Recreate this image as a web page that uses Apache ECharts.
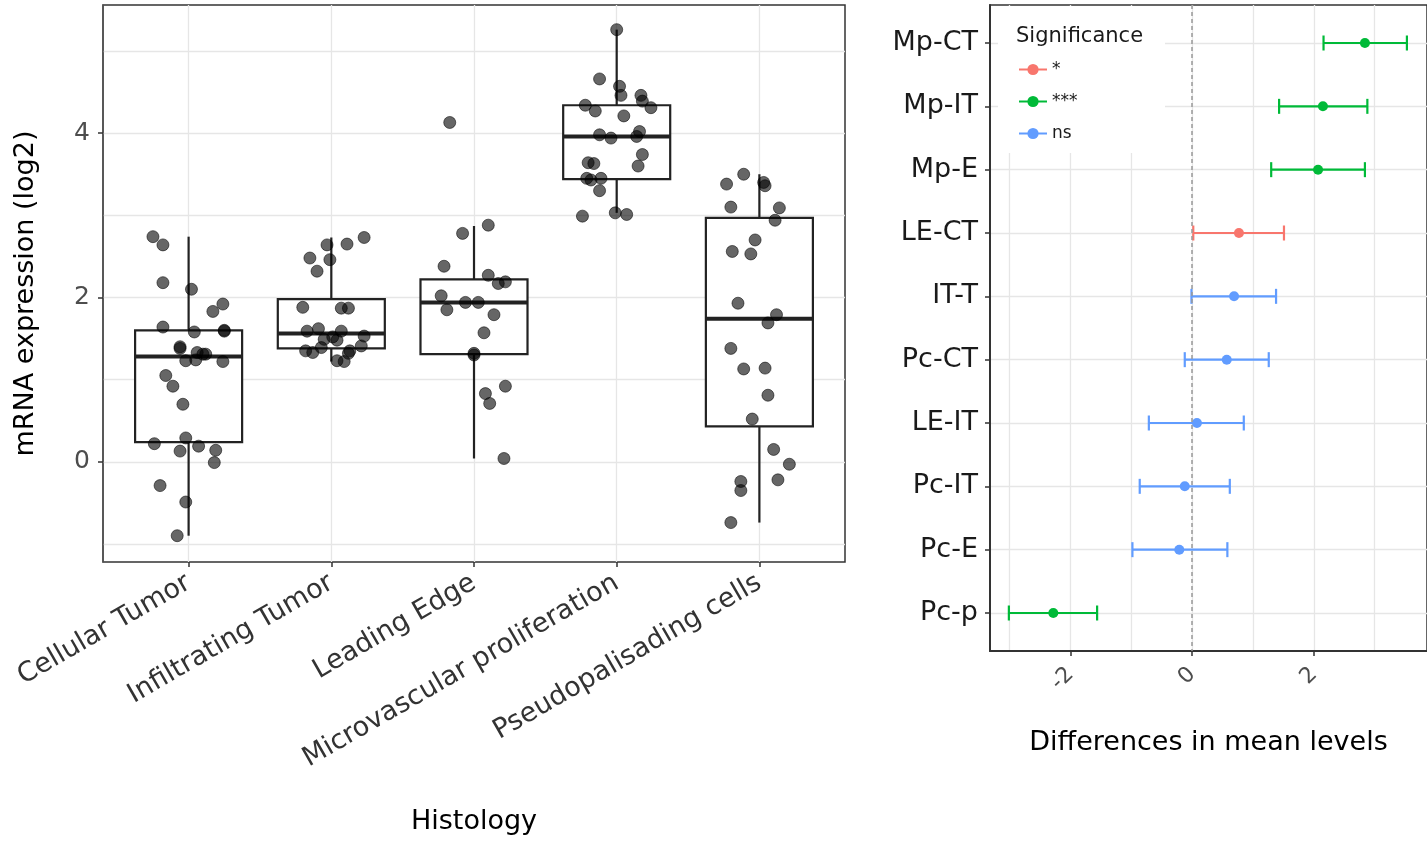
<!DOCTYPE html>
<html>
<head>
<meta charset="utf-8">
<script src="https://cdn.jsdelivr.net/npm/echarts@6/dist/echarts.min.js"></script>
<style>
  html, body { margin: 0; padding: 0; background: #fff; }
  #chart { width: 1427px; height: 841px; }
</style>
</head>
<body>
<div id="chart"></div>
<script>
// ---- left panel: expression by histology ----
var histology = ['Cellular Tumor', 'Infiltrating Tumor', 'Leading Edge', 'Microvascular proliferation', 'Pseudopalisading cells'];

var ctExpr = [2.74, 2.64, 2.18, 2.10, 1.92, 1.83, 1.64, 1.58, 1.60, 1.59, 1.40, 1.38, 1.33, 1.31, 1.31, 1.23, 1.24, 1.22, 1.05, 0.92, 0.70, 0.29, 0.22, 0.13, 0.19, 0.14, -0.01, -0.29, -0.49, -0.90];
var ctJit = [-0.25, -0.18, -0.18, 0.02, 0.24, 0.17, -0.18, 0.04, 0.25, 0.25, -0.06, -0.06, 0.06, 0.12, 0.10, -0.02, 0.05, 0.24, -0.16, -0.11, -0.04, -0.02, -0.24, -0.06, 0.07, 0.19, 0.18, -0.20, -0.02, -0.08];
var itExpr = [2.64, 2.65, 2.73, 2.48, 2.46, 2.32, 1.88, 1.87, 1.87, 1.59, 1.62, 1.59, 1.53, 1.49, 1.52, 1.48, 1.39, 1.35, 1.33, 1.35, 1.41, 1.23, 1.22, 1.32];
var itJit = [-0.03, 0.11, 0.23, -0.15, -0.01, -0.10, -0.20, 0.07, 0.12, -0.17, -0.09, 0.07, 0.23, -0.05, 0.01, 0.04, -0.07, -0.18, -0.13, 0.13, 0.21, 0.04, 0.09, 0.12];
var leExpr = [4.13, 2.88, 2.78, 2.38, 2.27, 2.17, 2.19, 2.02, 1.85, 1.94, 1.94, 1.79, 1.57, 1.32, 1.30, 0.92, 0.83, 0.71, 0.04];
var leJit = [-0.17, 0.10, -0.08, -0.21, 0.10, 0.17, 0.22, -0.23, -0.19, -0.06, 0.03, 0.14, 0.07, 0.00, 0.00, 0.22, 0.08, 0.11, 0.21];
var mpExpr = [5.26, 4.66, 4.57, 4.46, 4.46, 4.39, 4.31, 4.34, 4.27, 4.21, 3.98, 3.94, 4.02, 3.96, 3.74, 3.60, 3.64, 3.63, 3.45, 3.43, 3.45, 3.30, 2.99, 3.03, 3.01];
var mpJit = [0.00, -0.12, 0.02, 0.03, 0.17, 0.18, 0.24, -0.22, -0.15, 0.05, -0.12, -0.04, 0.16, 0.14, 0.18, 0.15, -0.20, -0.16, -0.21, -0.18, -0.11, -0.12, -0.24, -0.01, 0.07];
var pcExpr = [3.50, 3.38, 3.40, 3.36, 3.10, 3.09, 2.94, 2.70, 2.56, 2.53, 1.93, 1.79, 1.69, 1.38, 1.13, 1.14, 0.81, 0.52, 0.15, -0.03, -0.22, -0.24, -0.35, -0.74];
var pcJit = [-0.11, -0.23, 0.03, 0.04, -0.20, 0.14, 0.11, -0.03, -0.19, -0.06, -0.15, 0.12, 0.06, -0.20, -0.11, 0.04, 0.06, -0.05, 0.10, 0.21, 0.13, -0.13, -0.13, -0.20];

var boxLow = [-0.90, 1.22, 0.04, 3.03, -0.74];
var boxQ1 = [0.24, 1.38, 1.31, 3.44, 0.43];
var boxMed = [1.28, 1.56, 1.94, 3.96, 1.74];
var boxQ3 = [1.60, 1.98, 2.22, 4.34, 2.97];
var boxHigh = [2.74, 2.73, 2.87, 5.26, 3.50];

var exprTicks = [0, 2, 4];
var exprGrid = [-1, 0, 1, 2, 3, 4, 5];

// ---- right panel: pairwise differences ----
var comparisons = ['Mp-CT', 'Mp-IT', 'Mp-E', 'LE-CT', 'IT-T', 'Pc-CT', 'LE-IT', 'Pc-IT', 'Pc-E', 'Pc-p'];
var diffMean = [2.84, 2.15, 2.07, 0.77, 0.69, 0.57, 0.08, -0.12, -0.21, -2.28];
var diffLwr = [2.16, 1.43, 1.30, 0.02, -0.01, -0.12, -0.71, -0.86, -0.98, -3.01];
var diffUpr = [3.53, 2.88, 2.84, 1.51, 1.38, 1.26, 0.85, 0.62, 0.58, -1.56];
var significance = ['***', '***', '***', '*', 'ns', 'ns', 'ns', 'ns', 'ns', '***'];
var sigLevels = ['*', '***', 'ns'];

var diffTicks = [-2, 0, 2];
var diffGrid = [-3, -2, -1, 0, 1, 2, 3];

var sigColor = { '*': '#F8766D', '***': '#00BA38', 'ns': '#619CFF' };

var groupExpr = [ctExpr, itExpr, leExpr, mpExpr, pcExpr];
var groupJit = [ctJit, itJit, leJit, mpJit, pcJit];

var jitterData = [];
groupExpr.forEach(function (vals, g) {
  vals.forEach(function (v, k) {
    jitterData.push([g + groupJit[g][k], v]);
  });
});

var boxData = histology.map(function (n, i) {
  return [i, boxLow[i], boxQ1[i], boxMed[i], boxQ3[i], boxHigh[i]];
});

var errData = comparisons.map(function (c, i) {
  return { value: [diffLwr[i], diffUpr[i], i], itemStyle: { color: sigColor[significance[i]] } };
});

var pointSeries = sigLevels.map(function (s) {
  var d = [];
  comparisons.forEach(function (c, i) {
    if (significance[i] === s) d.push([diffMean[i], i]);
  });
  return {
    name: s,
    type: 'line',
    xAxisIndex: 1,
    yAxisIndex: 2,
    data: d,
    symbol: 'circle',
    symbolSize: 10,
    showSymbol: true,
    lineStyle: { opacity: 0 },
    itemStyle: { color: sigColor[s] },
    z: 4,
    silent: true,
    animation: false
  };
});

var chart = echarts.init(document.getElementById('chart'));
var axisGrey = '#4d4d4d';
var gridLine = { color: '#e6e6e6', width: 1.3 };

chart.setOption({
  animation: false,
  textStyle: { fontFamily: 'DejaVu Sans' },
  title: {
    text: 'Significance',
    left: 1011,
    top: 21,
    z: 8,
    textStyle: { fontSize: 21, fontWeight: 'normal', color: '#1a1a1a', fontFamily: 'DejaVu Sans' }
  },
  legend: {
    data: sigLevels,
    orient: 'vertical',
    left: 1013,
    top: 56,
    itemWidth: 28,
    itemHeight: 14,
    itemGap: 15,
    z: 8,
    textStyle: { fontSize: 17, color: '#1a1a1a' },
    lineStyle: { opacity: 1, width: 2 }
  },
  graphic: [{
    type: 'rect',
    left: 998,
    top: 6,
    shape: { width: 167, height: 147 },
    style: { fill: '#fff' },
    z: 3
  }],
  grid: [
    { left: 103, top: 5, width: 742, height: 557, show: true, borderColor: '#333', borderWidth: 1.5, backgroundColor: 'transparent' },
    { left: 990, top: 5, width: 443, height: 646, show: true, borderColor: '#333', borderWidth: 1.5, backgroundColor: 'transparent' }
  ],
  xAxis: [
    {
      gridIndex: 0, type: 'value', min: -0.6, max: 4.6,
      axisLine: { show: false, onZero: false },
      axisTick: { customValues: [0, 1, 2, 3, 4], length: 5, lineStyle: { color: '#333', width: 1.5 } },
      axisLabel: {
        customValues: [0, 1, 2, 3, 4],
        formatter: function (v) { return histology[Math.round(v)]; },
        rotate: 30, fontSize: 27, color: '#333', margin: 19
      },
      splitLine: { show: true, lineStyle: gridLine },
      name: 'Histology', nameLocation: 'middle', nameGap: 246,
      nameTextStyle: { fontSize: 27, color: '#000' }
    },
    {
      gridIndex: 1, type: 'value', min: -3.32, max: 3.86,
      axisLine: { show: true, onZero: false, lineStyle: { color: '#333', width: 2 } },
      axisTick: { customValues: diffTicks, length: 5, lineStyle: { color: '#333', width: 1.5 } },
      axisLabel: { customValues: diffTicks, rotate: 45, fontSize: 22, color: axisGrey, margin: 20 },
      splitLine: { show: false },
      name: 'Differences in mean levels', nameLocation: 'middle', nameGap: 78,
      nameTextStyle: { fontSize: 27, color: '#000' }
    },
    {
      gridIndex: 1, type: 'value', min: -3.32, max: 3.86, position: 'bottom',
      axisLine: { show: false, onZero: false },
      axisTick: { show: false, customValues: diffGrid },
      axisLabel: { show: false },
      splitLine: { show: true, lineStyle: gridLine }
    }
  ],
  yAxis: [
    {
      gridIndex: 0, type: 'value', min: -1.22, max: 5.56,
      axisLine: { show: true, onZero: false, lineStyle: { color: '#555', width: 1.5 } },
      axisTick: { customValues: exprTicks, length: 5, lineStyle: { color: '#333', width: 1.5 } },
      axisLabel: { customValues: exprTicks, fontSize: 25, color: axisGrey, margin: 13 },
      splitLine: { show: false },
      name: 'mRNA expression (log2)', nameLocation: 'middle', nameGap: 64, nameRotate: 90,
      nameTextStyle: { fontSize: 27, color: '#000', padding: [0, 20, 0, 0] }
    },
    {
      gridIndex: 0, type: 'value', min: -1.22, max: 5.56, position: 'left',
      axisLine: { show: false, onZero: false },
      axisTick: { show: false, customValues: exprGrid },
      axisLabel: { show: false },
      splitLine: { show: true, lineStyle: gridLine }
    },
    {
      gridIndex: 1, type: 'value', min: -0.6, max: 9.6, inverse: true,
      axisLine: { show: true, onZero: false, lineStyle: { color: '#333', width: 2 } },
      axisTick: { customValues: [0, 1, 2, 3, 4, 5, 6, 7, 8, 9], length: 5, lineStyle: { color: '#333', width: 1.5 } },
      axisLabel: {
        customValues: [0, 1, 2, 3, 4, 5, 6, 7, 8, 9],
        formatter: function (v) { return comparisons[Math.round(v)]; },
        fontSize: 27, color: '#1a1a1a', margin: 12
      },
      splitLine: { show: true, lineStyle: gridLine }
    }
  ],
  series: [
    {
      type: 'custom',
      xAxisIndex: 0,
      yAxisIndex: 0,
      silent: true,
      z: 2,
      data: boxData,
      renderItem: function (params, api) {
        var x = api.value(0);
        var half = 0.375;
        var lowP = api.coord([x, api.value(1)]);
        var q1L = api.coord([x - half, api.value(2)]);
        var medL = api.coord([x - half, api.value(3)]);
        var medR = api.coord([x + half, api.value(3)]);
        var q3R = api.coord([x + half, api.value(4)]);
        var q1C = api.coord([x, api.value(2)]);
        var q3C = api.coord([x, api.value(4)]);
        var highP = api.coord([x, api.value(5)]);
        var line = { stroke: '#222', lineWidth: 2.2 };
        return {
          type: 'group',
          children: [
            { type: 'line', shape: { x1: lowP[0], y1: lowP[1], x2: q1C[0], y2: q1C[1] }, style: line },
            { type: 'line', shape: { x1: q3C[0], y1: q3C[1], x2: highP[0], y2: highP[1] }, style: line },
            { type: 'rect', shape: { x: q1L[0], y: q3R[1], width: q3R[0] - q1L[0], height: q1L[1] - q3R[1] }, style: { fill: '#fff', stroke: '#222', lineWidth: 2.2 } },
            { type: 'line', shape: { x1: medL[0], y1: medL[1], x2: medR[0], y2: medR[1] }, style: { stroke: '#222', lineWidth: 4 } }
          ]
        };
      }
    },
    {
      type: 'scatter',
      xAxisIndex: 0,
      yAxisIndex: 0,
      silent: true,
      z: 3,
      symbolSize: 12,
      data: jitterData,
      itemStyle: { color: 'rgba(0,0,0,0.6)', borderColor: 'rgba(0,0,0,0.55)', borderWidth: 1, opacity: 1 }
    },
    {
      type: 'custom',
      xAxisIndex: 1,
      yAxisIndex: 2,
      silent: true,
      z: 3,
      data: errData,
      renderItem: function (params, api) {
        var lo = api.coord([api.value(0), api.value(2)]);
        var hi = api.coord([api.value(1), api.value(2)]);
        var col = api.visual('color');
        var cap = 7.5;
        var st = { stroke: col, lineWidth: 2.2 };
        return {
          type: 'group',
          children: [
            { type: 'line', shape: { x1: lo[0], y1: lo[1], x2: hi[0], y2: hi[1] }, style: st },
            { type: 'line', shape: { x1: lo[0], y1: lo[1] - cap, x2: lo[0], y2: lo[1] + cap }, style: st },
            { type: 'line', shape: { x1: hi[0], y1: hi[1] - cap, x2: hi[0], y2: hi[1] + cap }, style: st }
          ]
        };
      },
      markLine: {
        silent: true,
        symbol: 'none',
        label: { show: false },
        lineStyle: { color: '#999', type: [4, 3], width: 1.5 },
        data: [{ xAxis: 0 }]
      }
    }
  ].concat(pointSeries)
});
</script>
</body>
</html>
